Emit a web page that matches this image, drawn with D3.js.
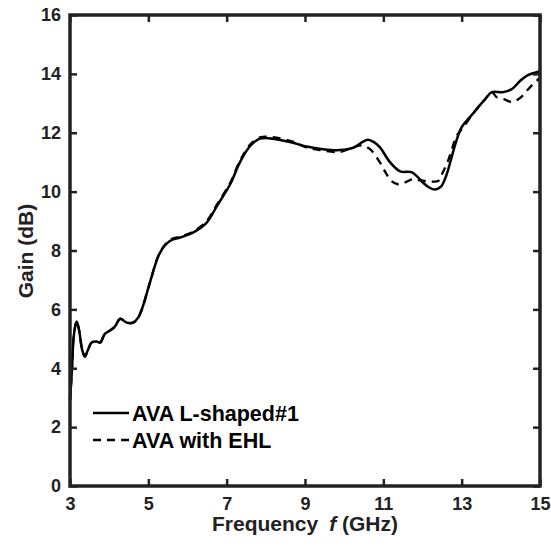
<!DOCTYPE html>
<html><head><meta charset="utf-8">
<script src="https://cdn.jsdelivr.net/npm/d3@7"></script>
<style>body{margin:0;background:#fff}svg{display:block}</style>
</head><body><svg id="c" width="551" height="546"></svg>
<script>
const xTicks = [3,5,7,9,11,13,15];
const yTicks = [0,2,4,6,8,10,12,14,16];
const seriesNames = ["AVA L-shaped#1","AVA with EHL"];
const solidF = [3.0,3.05,3.10,3.17,3.23,3.31,3.38,3.46,3.55,3.68,3.77,3.89,4.02,4.15,4.28,4.45,4.61,4.74,4.86,5.04,5.30,5.55,5.81,6.14,6.49,6.75,7.09,7.34,7.60,7.85,8.18,8.69,9.04,9.46,9.89,10.23,10.46,10.61,10.76,10.91,11.17,11.43,11.72,11.86,12.01,12.17,12.32,12.47,12.60,12.75,12.86,13.0,13.21,13.38,13.60,13.77,14.06,14.28,14.49,14.69,14.92,15.0];
const solidG = [2.9,3.95,5.14,5.59,5.31,4.63,4.40,4.63,4.87,4.91,4.87,5.17,5.28,5.42,5.68,5.55,5.55,5.72,6.10,6.91,7.93,8.32,8.44,8.61,8.95,9.51,10.25,11.0,11.55,11.8,11.8,11.66,11.53,11.44,11.41,11.49,11.68,11.76,11.68,11.51,11.0,10.69,10.66,10.52,10.31,10.14,10.07,10.17,10.52,11.2,11.71,12.19,12.53,12.80,13.14,13.38,13.38,13.48,13.76,13.96,14.06,14.09];
const dashF = [3.0,3.05,3.10,3.17,3.23,3.31,3.38,3.46,3.55,3.68,3.77,3.89,4.02,4.15,4.28,4.45,4.61,4.74,4.86,5.04,5.30,5.55,5.81,6.14,6.49,6.75,7.09,7.34,7.60,7.85,8.18,8.69,9.04,9.38,9.89,10.23,10.46,10.66,10.91,11.07,11.21,11.37,11.55,11.76,11.94,12.19,12.40,12.52,12.65,12.75,12.87,13.0,13.21,13.38,13.60,13.77,13.89,14.08,14.28,14.49,14.66,14.82,15.0];
const dashG = [2.9,3.95,5.14,5.59,5.31,4.63,4.40,4.63,4.87,4.91,4.87,5.17,5.28,5.42,5.68,5.55,5.55,5.72,6.10,6.91,7.95,8.36,8.47,8.64,9.0,9.56,10.3,11.05,11.6,11.84,11.85,11.7,11.5,11.41,11.35,11.51,11.57,11.44,11.0,10.62,10.36,10.25,10.31,10.42,10.38,10.35,10.36,10.66,11.04,11.44,11.89,12.12,12.5,12.8,13.14,13.38,13.21,13.14,13.05,13.18,13.42,13.65,13.86];

const svg = d3.select("#c");
const L=70, R=540, T=15, B=486;
const x = d3.scaleLinear().domain([3,15]).range([L,R]);
const y = d3.scaleLinear().domain([0,16]).range([B,T]);
const col = "#222";
const font = "'Liberation Sans', Arial, sans-serif";

const line = d3.line().x(d=>x(d[0])).y(d=>y(d[1])).curve(d3.curveCatmullRom.alpha(0.5));
const solid = solidF.map((f,i)=>[f,solidG[i]]);
const dash = dashF.map((f,i)=>[f,dashG[i]]);

svg.append("path").datum(dash).attr("d",line).attr("fill","none").attr("stroke","#000").attr("stroke-width",2.3).attr("stroke-dasharray","8,6");
svg.append("path").datum(solid).attr("d",line).attr("fill","none").attr("stroke","#000").attr("stroke-width",2.5);

// axes
function styleAxis(g){
  g.select(".domain").remove();
  g.selectAll(".tick line").attr("stroke",col).attr("stroke-width",2.5);
  g.selectAll(".tick text").attr("fill",col).attr("font-family",font).attr("font-weight","bold").attr("font-size","18px");
}
const gx = svg.append("g").attr("transform",`translate(0,${B})`).call(d3.axisBottom(x).tickValues(xTicks).tickSize(-7).tickPadding(11).tickFormat(d3.format("d")));
styleAxis(gx);
const gy = svg.append("g").attr("transform",`translate(${L},0)`).call(d3.axisLeft(y).tickValues(yTicks).tickSize(-7).tickPadding(9).tickFormat(d3.format("d")));
styleAxis(gy);
const gt = svg.append("g").attr("transform",`translate(0,${T})`).call(d3.axisTop(x).tickValues(xTicks).tickSize(-7).tickFormat(""));
styleAxis(gt);
const gr = svg.append("g").attr("transform",`translate(${R},0)`).call(d3.axisRight(y).tickValues(yTicks).tickSize(-7).tickFormat(""));
styleAxis(gr);
svg.append("rect").attr("x",L).attr("y",T).attr("width",R-L).attr("height",B-T).attr("fill","none").attr("stroke",col).attr("stroke-width",3.5);

// axis labels
const xl = svg.append("text").attr("x",(L+R)/2).attr("y",531).attr("text-anchor","middle").attr("fill",col).attr("font-family",font).attr("font-weight","bold").attr("font-size","21px");
xl.append("tspan").text("Frequency");
xl.append("tspan").attr("dx",11).attr("font-style","italic").text("f");
xl.append("tspan").text(" (GHz)");
svg.append("text").attr("transform",`translate(33,251) rotate(-90)`).attr("text-anchor","middle").attr("fill",col).attr("font-family",font).attr("font-weight","bold").attr("font-size","21px").text("Gain (dB)");

// legend
const lg = svg.append("g");
const dashes = ["none","8,6"];
seriesNames.forEach((n,i)=>{
  const yy = 413 + i*27;
  lg.append("line").attr("x1",93).attr("x2",129).attr("y1",yy).attr("y2",yy).attr("stroke","#000").attr("stroke-width",2.5).attr("stroke-dasharray",dashes[i]);
  lg.append("text").attr("x",132).attr("y",yy+8).attr("fill","#000").attr("font-family",font).attr("font-weight","bold").attr("font-size","21.5px").text(n);
});
</script></body></html>
